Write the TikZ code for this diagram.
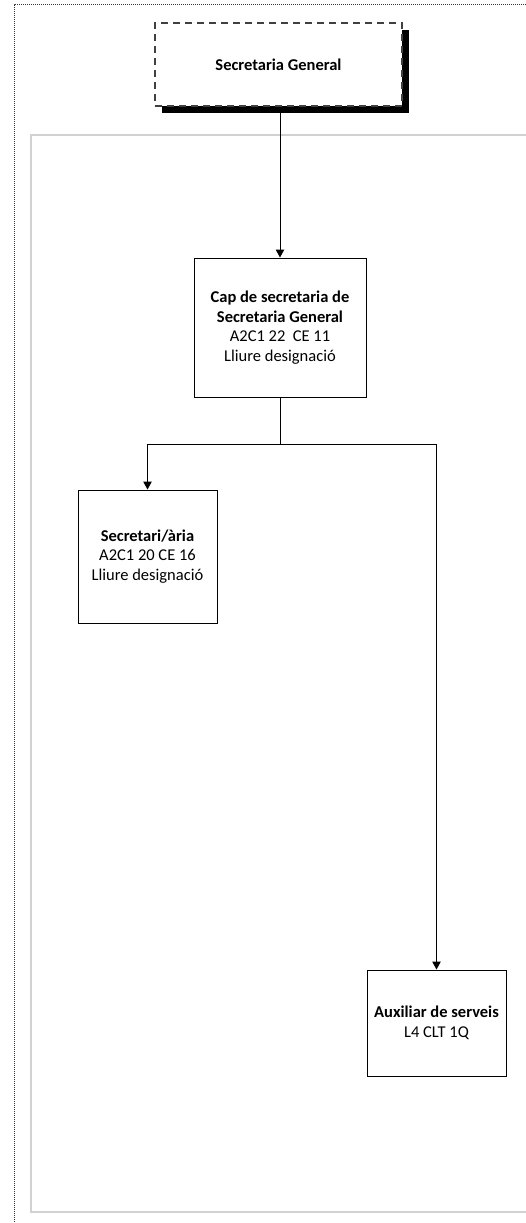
\documentclass[tikz,border=0pt]{standalone}
\usepackage{fontspec}
\setmainfont{Carlito}
\usetikzlibrary{arrows.meta}
\begin{document}
\begin{tikzpicture}[x=1pt,y=-1pt,
  box/.style={draw=black,line width=1pt,fill=white,align=center,inner sep=0pt,
    font=\fontsize{16.5}{19.5}\selectfont},
  conn/.style={line width=1pt,draw=black},
  arr/.style={conn,-{Triangle[length=8pt,width=8.5pt]}}]
\useasboundingbox (0,0) rectangle (526,1223);
\begin{scope}
\clip (0,0) rectangle (526,1223);
% outer dotted frame
\draw[densely dotted,line width=1pt,draw=black!80] (14,1230) -- (14,5) -- (530,5);
% gray panel
\draw[draw=black!18,line width=2pt] (31,135) rectangle (535,1212);
\end{scope}
% top box with shadow
\fill[black] (162,30) rectangle (409,113);
\node[box,draw=black!75,dashed,dash pattern=on 7pt off 5pt,line width=1.2pt,
  minimum width=247pt,minimum height=83pt] (top) at (278.5,64.5) {\textbf{Secretaria General}};
\node[box,minimum width=172pt,minimum height=139pt] (cap) at (280,327.5)
  {\textbf{Cap de secretaria de}\\\textbf{Secretaria General}\\A2C1 22\ \ CE 11\\Lliure designació};
\node[box,minimum width=139pt,minimum height=133pt] (sec) at (147.5,556.5)
  {\textbf{Secretari/ària}\\A2C1 20 CE 16\\Lliure designació};
\node[box,minimum width=139pt,minimum height=106pt] (aux) at (436.5,1023)
  {\textbf{Auxiliar de serveis}\\L4 CLT 1Q};
\coordinate (t) at (280,113);
\draw[arr] (t) -- (cap.north);
\draw[conn] (cap.south) -- (280,444) coordinate (b);
\draw[arr] (b) -| (sec.north);
\draw[arr] (b) -| (aux.north);
\end{tikzpicture}
\end{document}
